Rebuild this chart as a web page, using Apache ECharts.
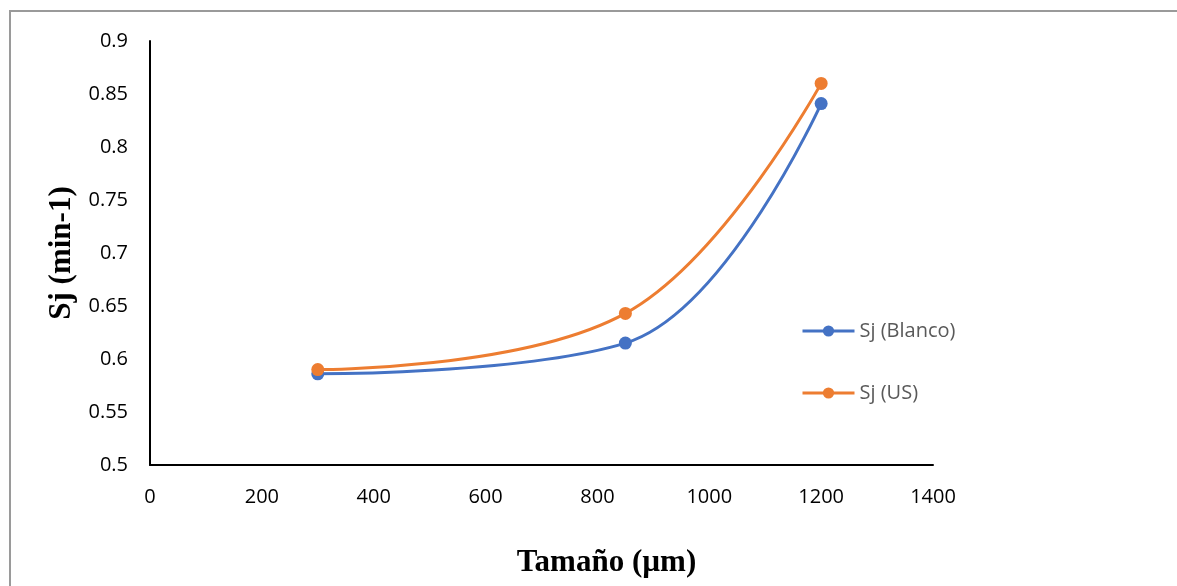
<!DOCTYPE html>
<html>
<head>
<meta charset="utf-8">
<script src="https://cdn.jsdelivr.net/npm/echarts@6/dist/echarts.min.js"></script>
<style>
  html, body { margin: 0; padding: 0; background: #fff; }
  #frame { position: absolute; left: 9px; top: 10px; width: 1180px; height: 590px;
           border-left: 2px solid #9a9a9a; border-top: 2px solid #9a9a9a; }
  #chart { position: absolute; left: 0; top: 0; width: 1177px; height: 586px; }
</style>
</head>
<body>
<div id="frame"></div>
<div id="chart"></div>
<script>
// datos
var tamano = [300, 850, 1200];
var sjBlanco = [0.586, 0.615, 0.841];
var sjUS = [0.590, 0.643, 0.860];

var myChart = echarts.init(document.getElementById('chart'));

function pares(xs, ys) {
  return xs.map(function (x, i) { return [x, ys[i]]; });
}

var option = {
  animation: false,
  grid: { left: 150, right: 244, top: 41, bottom: 121 },
  legend: {
    orient: 'vertical',
    left: 796,
    top: 316,
    itemWidth: 52,
    itemHeight: 14,
    itemGap: 42,
    itemStyle: { borderWidth: 0 },
    lineStyle: { width: 3 },
    textStyle: { fontFamily: 'Open Sans', fontSize: 20, color: '#595959' },
    data: ['Sj (Blanco)', 'Sj (US)']
  },
  xAxis: {
    type: 'value',
    min: 0, max: 1400, interval: 200,
    name: 'Tamaño (µm)',
    nameLocation: 'middle',
    nameGap: 82,
    nameTextStyle: { fontFamily: 'Liberation Serif', fontWeight: 'bold', fontSize: 31, color: '#000', padding: [0, 0, 0, 130] },
    axisLine: { lineStyle: { color: '#000', width: 2 } },
    axisTick: { show: false },
    splitLine: { show: false },
    axisLabel: {
      fontFamily: 'Open Sans', fontSize: 20, color: '#000', margin: 22,
      formatter: function (v) { return String(v); }
    }
  },
  yAxis: {
    type: 'value',
    min: 0.5, max: 0.9, interval: 0.05,
    name: 'Sj (min-1)',
    nameLocation: 'middle',
    nameGap: 72,
    nameTextStyle: { fontFamily: 'Liberation Serif', fontWeight: 'bold', fontSize: 31, color: '#000' },
    axisLine: { show: true, lineStyle: { color: '#000', width: 2 } },
    axisTick: { show: false },
    splitLine: { show: false },
    axisLabel: {
      fontFamily: 'Open Sans', fontSize: 20, color: '#000', margin: 22,
      formatter: function (v) { return String(Math.round(v * 100) / 100); }
    }
  },
  series: [
    {
      name: 'Sj (Blanco)',
      type: 'line',
      smooth: 0.4,
      data: pares(tamano, sjBlanco),
      symbol: 'circle',
      symbolSize: 13,
      lineStyle: { color: '#4472C4', width: 3 },
      itemStyle: { color: '#4472C4' }
    },
    {
      name: 'Sj (US)',
      type: 'line',
      smooth: 0.4,
      data: pares(tamano, sjUS),
      symbol: 'circle',
      symbolSize: 13,
      lineStyle: { color: '#ED7D31', width: 3 },
      itemStyle: { color: '#ED7D31' }
    }
  ]
};

myChart.setOption(option);
</script>
</body>
</html>
